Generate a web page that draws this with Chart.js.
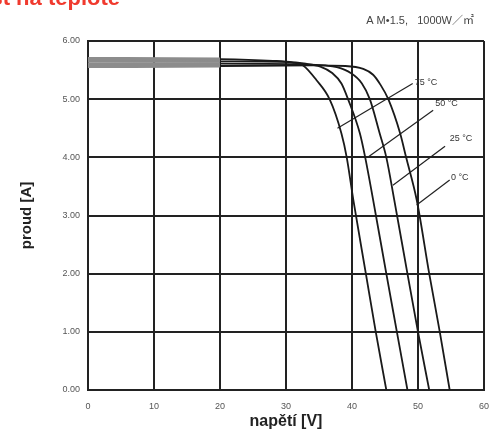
<!DOCTYPE html>
<html>
<head>
    <title>Závislost na teplotě</title>
    <script src="https://cdn.jsdelivr.net/npm/chart.js"></script>
    <style>
        body { margin: 0; background: #fff; }
    </style>
</head>
<body>
    <canvas id="ivChart" width="492" height="432"></canvas>
    <script>
        // I-V curves, one pair of arrays per temperature
        const v75 = [0, 20, 28, 31, 32.6, 34.6, 36.6, 38.4, 39.2, 40.2, 42.1, 43.6, 45.2];
        const i75 = [5.70, 5.69, 5.66, 5.63, 5.58, 5.33, 5.0, 4.41, 4.0, 3.27, 2.0, 1.0, 0];

        const v50 = [0, 20, 30, 33, 35.2, 37, 38.4, 39.4, 41.2, 42.0, 43.2, 45.2, 46.8, 48.4];
        const i50 = [5.66, 5.65, 5.64, 5.61, 5.56, 5.45, 5.27, 5.0, 4.41, 4.0, 3.27, 2.0, 1.0, 0];

        const v25 = [0, 20, 32, 36, 37.7, 39.8, 41.5, 42.7, 44.2, 45.2, 46.4, 48.4, 50.0, 51.7];
        const i25 = [5.61, 5.61, 5.60, 5.58, 5.55, 5.45, 5.27, 5.0, 4.41, 4.0, 3.27, 2.0, 1.0, 0];

        const v0 = [0, 20, 34, 39, 41.7, 43.2, 44.3, 45.5, 47.3, 48.2, 49.8, 51.7, 53.3, 54.8];
        const i0 = [5.56, 5.57, 5.58, 5.57, 5.52, 5.42, 5.25, 5.0, 4.41, 4.0, 3.27, 2.0, 1.0, 0];

        // leader lines to the temperature labels (start / end in V, A)
        const leaderV = [[37.8, 49.2], [42.5, 52.3], [46.2, 54.1], [49.8, 54.8]];
        const leaderI = [[4.50, 5.27], [4.01, 4.81], [3.52, 4.19], [3.18, 3.61]];
        const tempLabels = ['75 °C', '50 °C', '25 °C', '0 °C'];
        const labelV = [49.5, 52.6, 54.8, 55.0];
        const labelI = [5.28, 4.93, 4.33, 3.65];

        const xTicks = [0, 10, 20, 30, 40, 50, 60];
        const xTickLabels = ['0', '10', '20', '30', '40', '50', '60'];
        const yTicks = [0, 1, 2, 3, 4, 5, 6];
        const yTickLabels = ['0.00', '1.00', '2.00', '3.00', '4.00', '5.00', '6.00'];

        const toPoints = (xs, ys) => xs.map((x, k) => ({ x: x, y: ys[k] }));

        const curve = (xs, ys) => ({
            data: toPoints(xs, ys),
            borderColor: '#1a1a1a',
            borderWidth: 1.8,
            pointRadius: 0,
            cubicInterpolationMode: 'monotone',
            segment: {
                // the overlapping flat part shows as a grey band in the scan
                borderColor: ctx => ctx.p1.parsed.x <= 24 ? '#8c8c8c' : '#1a1a1a',
                borderWidth: ctx => ctx.p1.parsed.x <= 24 ? 3 : 1.8
            }
        });

        const leaders = leaderV.map((xs, k) => ({
            data: toPoints(xs, leaderI[k]),
            borderColor: '#222',
            borderWidth: 1.2,
            pointRadius: 0,
            tension: 0
        }));

        const textPlugin = {
            id: 'texts',
            afterDatasetsDraw(chart) {
                const c = chart.ctx;
                const xs = chart.scales.x, ys = chart.scales.y;
                c.save();
                c.fillStyle = '#333';
                c.font = '9px "Liberation Sans", Arial, sans-serif';
                c.textAlign = 'left';
                c.textBaseline = 'middle';
                tempLabels.forEach((t, k) => {
                    c.fillText(t, xs.getPixelForValue(labelV[k]), ys.getPixelForValue(labelI[k]));
                });

                // conditions note top right
                c.fillStyle = '#444';
                c.font = '11px "Liberation Sans", Arial, "Noto Sans CJK JP", sans-serif';
                c.textAlign = 'right';
                c.textBaseline = 'alphabetic';
                c.fillText('A M•1.5,   1000W／㎡', 474, 24);

                // cut-off red heading
                c.fillStyle = '#f03a2e';
                c.font = 'bold 22px "Liberation Sans", Arial, sans-serif';
                c.fillText('Závislost na teplotě', 120, 5);
                c.restore();
            }
        };

        new Chart(document.getElementById('ivChart'), {
            type: 'line',
            data: {
                datasets: [curve(v75, i75), curve(v50, i50), curve(v25, i25), curve(v0, i0)].concat(leaders)
            },
            options: {
                responsive: false,
                animation: false,
                layout: { padding: { top: 41, right: 8, left: 0, bottom: 0 } },
                plugins: { legend: { display: false }, tooltip: { enabled: false } },
                scales: {
                    x: {
                        type: 'linear',
                        min: 0,
                        max: 60,
                        afterBuildTicks: s => { s.ticks = xTicks.map(v => ({ value: v })); },
                        afterFit: s => { s.height = 42; s.paddingLeft = 0; s.paddingRight = 0; },
                        ticks: {
                            padding: 11,
                            color: '#555',
                            font: { size: 9, family: '"Liberation Sans", Arial, sans-serif' },
                            callback: v => xTickLabels[xTicks.indexOf(v)]
                        },
                        grid: { color: '#222', lineWidth: 2, drawTicks: false },
                        border: { color: '#222', width: 2 },
                        title: {
                            display: true,
                            text: 'napětí [V]',
                            color: '#222',
                            font: { size: 16, weight: 'bold', family: '"Liberation Sans", Arial, sans-serif' },
                            padding: { top: 0, bottom: 1 }
                        }
                    },
                    y: {
                        min: 0,
                        max: 6,
                        afterBuildTicks: s => { s.ticks = yTicks.map(v => ({ value: v })); },
                        afterFit: s => { s.width = 88; s.paddingTop = 0; s.paddingBottom = 0; },
                        ticks: {
                            padding: 8,
                            color: '#555',
                            font: { size: 9, family: '"Liberation Sans", Arial, sans-serif' },
                            callback: v => yTickLabels[yTicks.indexOf(v)]
                        },
                        grid: { color: '#222', lineWidth: 2, drawTicks: false },
                        border: { color: '#222', width: 2 },
                        title: {
                            display: true,
                            text: 'proud [A]',
                            color: '#222',
                            font: { size: 15, weight: 'bold', family: '"Liberation Sans", Arial, sans-serif' },
                            padding: { top: 18, bottom: 0 }
                        }
                    }
                }
            },
            plugins: [textPlugin]
        });
    </script>
</body>
</html>
